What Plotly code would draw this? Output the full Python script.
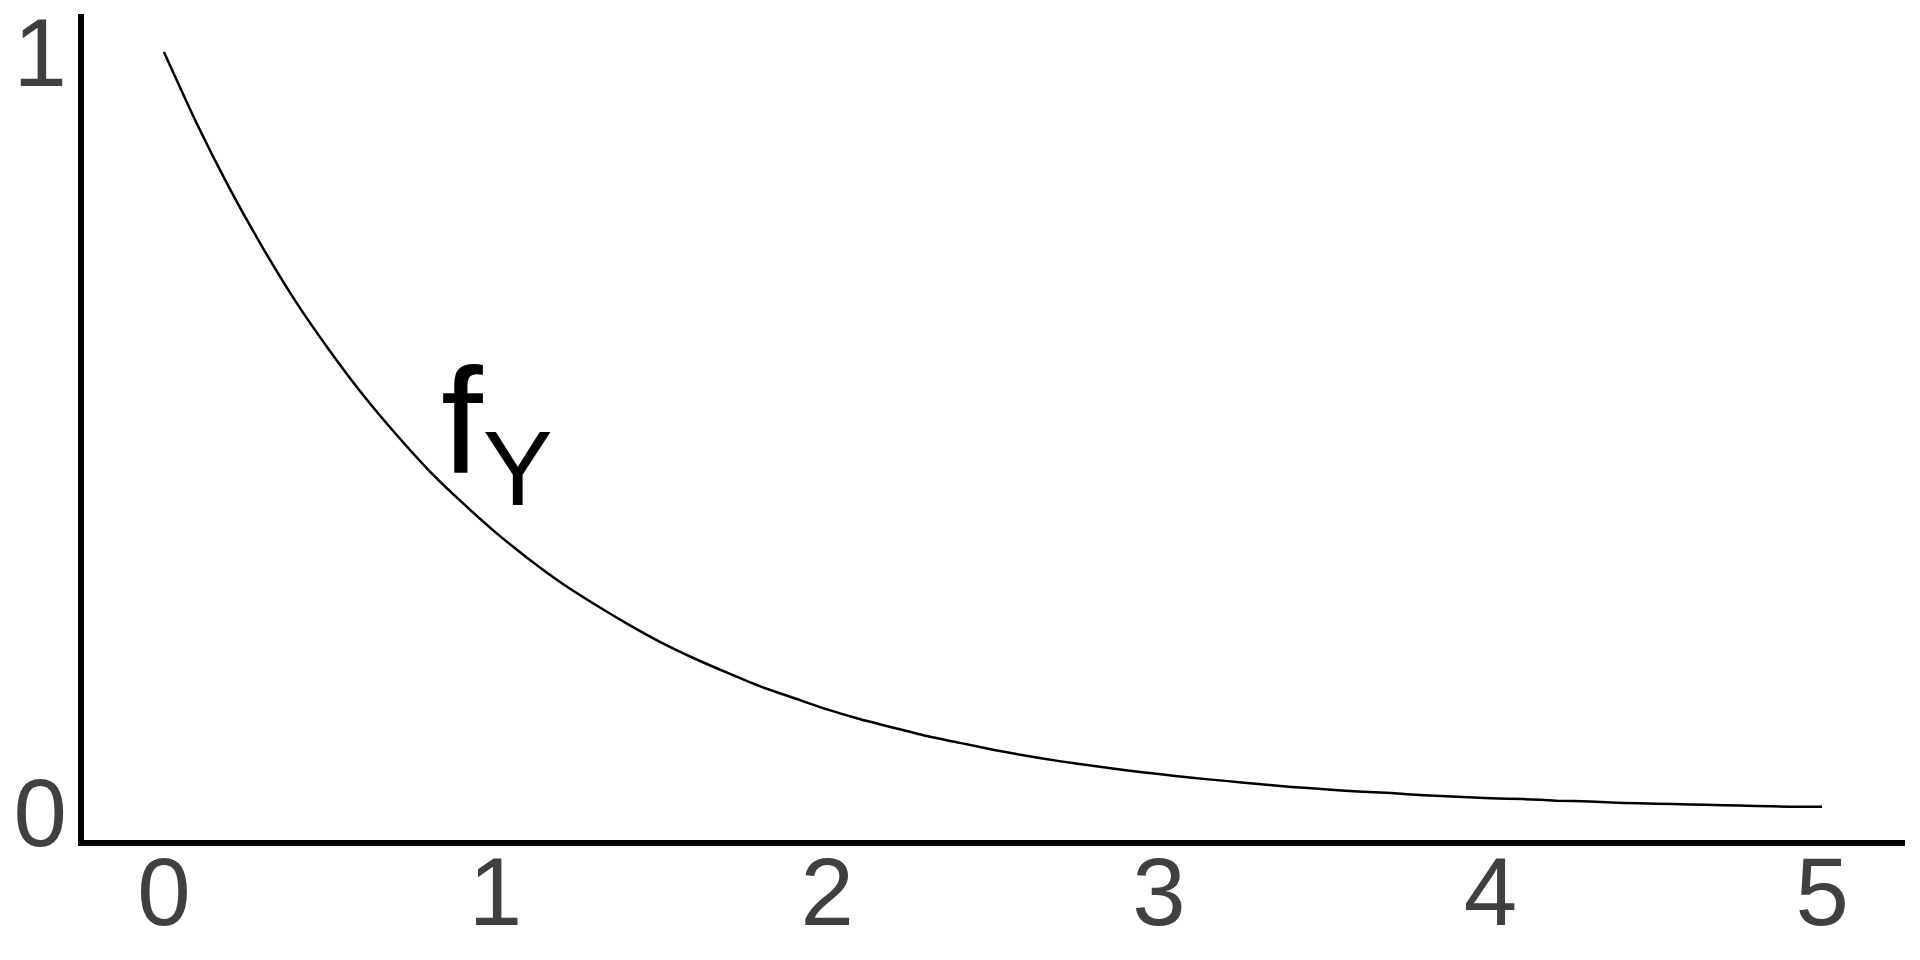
import plotly.graph_objects as go

# Values
x_vals = [0.0, 0.1, 0.2, 0.3, 0.4, 0.5, 0.6, 0.7, 0.8, 0.9,
          1.0, 1.1, 1.2, 1.3, 1.4, 1.5, 1.6, 1.7, 1.8, 1.9,
          2.0, 2.1, 2.2, 2.3, 2.4, 2.5, 2.6, 2.7, 2.8, 2.9,
          3.0, 3.1, 3.2, 3.3, 3.4, 3.5, 3.6, 3.7, 3.8, 3.9,
          4.0, 4.1, 4.2, 4.3, 4.4, 4.5, 4.6, 4.7, 4.8, 4.9, 5.0]
y_vals = [1.000, 0.905, 0.819, 0.741, 0.670, 0.607, 0.549, 0.497, 0.449, 0.407,
          0.368, 0.333, 0.301, 0.273, 0.247, 0.223, 0.202, 0.183, 0.165, 0.150,
          0.135, 0.122, 0.111, 0.100, 0.091, 0.082, 0.074, 0.067, 0.061, 0.055,
          0.050, 0.045, 0.041, 0.037, 0.033, 0.030, 0.027, 0.025, 0.022, 0.020,
          0.018, 0.017, 0.015, 0.014, 0.012, 0.011, 0.010, 0.009, 0.008, 0.007, 0.007]
x_ticks = [0, 1, 2, 3, 4, 5]
y_ticks = [0, 1]
label_text = "f<sub>Y</sub>"

FONT = "Liberation Sans, Arial, sans-serif"

fig = go.Figure()
fig.add_trace(go.Scatter(x=x_vals, y=y_vals, mode="lines",
                         line=dict(color="black", width=2.5, shape="spline", smoothing=0.6),
                         showlegend=False, hoverinfo="skip"))

fig.add_annotation(x=0.83, y=0.5, xref="x", yref="y", text=label_text,
                   showarrow=False, xanchor="left", yanchor="middle",
                   font=dict(family=FONT, size=150, color="black"))

# page body has an 8px margin, so the figure is 16px smaller than the window
fig.update_layout(
    width=1904, height=944,
    margin=dict(l=76, r=7, t=6, b=112, autoexpand=False),
    plot_bgcolor="white", paper_bgcolor="white",
    xaxis=dict(range=[-0.241, 5.25], tickvals=x_ticks, ticktext=[str(v) for v in x_ticks],
               showgrid=False, zeroline=False, showline=True, linecolor="black", linewidth=6,
               ticks="", ticklabelstandoff=-36, automargin=False, ticklabeloverflow="allow",
               tickfont=dict(family=FONT, size=96, color="#404040")),
    yaxis=dict(range=[-0.0368, 1.05], tickvals=y_ticks, ticktext=[str(v) for v in y_ticks],
               showgrid=False, zeroline=False, showline=True, linecolor="black", linewidth=6,
               ticks="", ticklabelstandoff=-8, automargin=False, ticklabeloverflow="allow",
               tickfont=dict(family=FONT, size=96, color="#404040")),
)

fig.write_html("out.html")
